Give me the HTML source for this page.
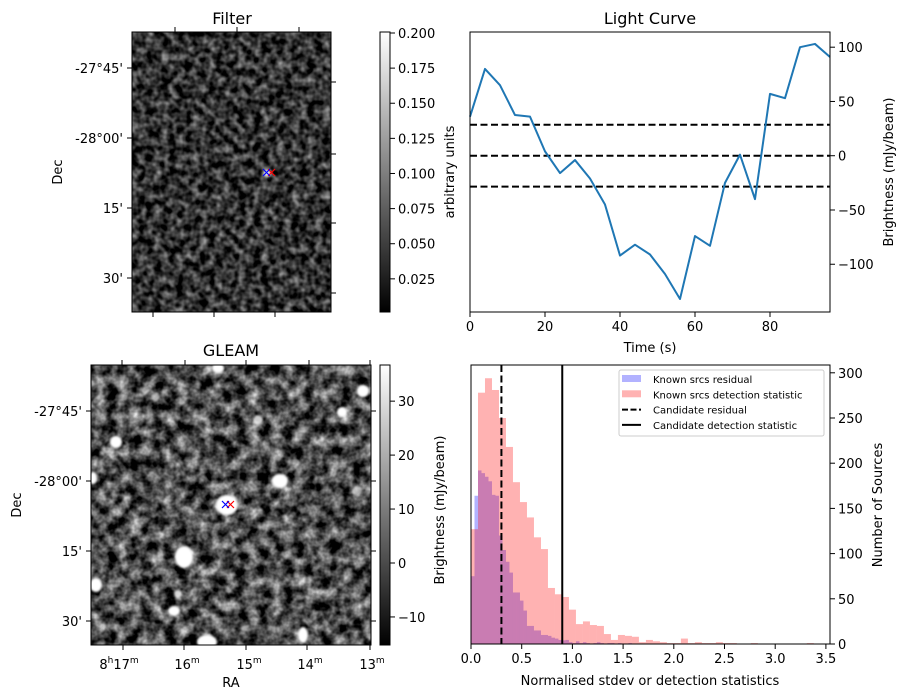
<!DOCTYPE html>
<html><head><meta charset="utf-8"><style>
html,body{margin:0;padding:0;background:#fff;}
svg{display:block;font-family:"DejaVu Sans","Liberation Sans",sans-serif;}
</style></head><body>
<svg id="fig" width="907" height="699" viewBox="0 0 907 699" xmlns="http://www.w3.org/2000/svg">
<defs>
<filter id="noiseA" x="0" y="0" width="100%" height="100%" color-interpolation-filters="sRGB">
<feTurbulence type="fractalNoise" baseFrequency="0.13" numOctaves="2" seed="3"/>
<feColorMatrix type="matrix" values="1.05 0 0 0 -0.33  1.05 0 0 0 -0.33  1.05 0 0 0 -0.33  0 0 0 0 1"/>
</filter>
<filter id="noiseB" x="0" y="0" width="100%" height="100%" color-interpolation-filters="sRGB">
<feTurbulence type="fractalNoise" baseFrequency="0.085" numOctaves="3" seed="8"/>
<feColorMatrix type="matrix" values="1.45 0 0 0 -0.42  1.45 0 0 0 -0.42  1.45 0 0 0 -0.42  0 0 0 0 1"/>
</filter>
<filter id="blur2" x="-50%" y="-50%" width="200%" height="200%"><feGaussianBlur stdDeviation="1.5"/></filter>
<filter id="blur1" x="-20%" y="-20%" width="140%" height="140%"><feGaussianBlur stdDeviation="1"/></filter>
<linearGradient id="cbar" x1="0" y1="1" x2="0" y2="0"><stop offset="0" stop-color="#000"/><stop offset="1" stop-color="#fff"/></linearGradient>
<clipPath id="clipB"><rect x="91" y="365" width="280" height="280"/></clipPath>
</defs>

<!-- Filter panel -->
<g>
<text x="232" y="24" font-size="16" text-anchor="middle">Filter</text>
<rect x="132" y="32" width="199" height="280" fill="#333" filter="url(#noiseA)"/>
<rect x="132" y="32" width="199" height="280" fill="none" stroke="#000" stroke-width="1"/>
<g stroke="#000" stroke-width="1">
<line x1="175" y1="32" x2="175" y2="27"/><line x1="237" y1="32" x2="237" y2="27"/><line x1="299" y1="32" x2="299" y2="27"/>
<line x1="153" y1="312" x2="153" y2="317"/><line x1="214" y1="312" x2="214" y2="317"/><line x1="275" y1="312" x2="275" y2="317"/>
<line x1="132" y1="68" x2="127" y2="68"/><line x1="132" y1="138" x2="127" y2="138"/><line x1="132" y1="208" x2="127" y2="208"/><line x1="132" y1="278" x2="127" y2="278"/>
<line x1="331" y1="82" x2="336" y2="82"/><line x1="331" y1="154" x2="336" y2="154"/><line x1="331" y1="223" x2="336" y2="223"/><line x1="331" y1="293" x2="336" y2="293"/>
</g>
<g font-size="13" text-anchor="end">
<text x="123" y="73">-27°45'</text><text x="123" y="143">-28°00'</text><text x="123" y="213">15'</text><text x="123" y="283">30'</text>
</g>
<text transform="translate(62,172) rotate(-90)" font-size="13" text-anchor="middle">Dec</text>
<g>
<circle cx="267" cy="173" r="4" fill="#eee" filter="url(#blur2)"/>
<path d="M268,169 l7,7 M275,169 l-7,7" stroke="red" stroke-width="1.2"/>
<path d="M263,169 l7,7 M270,169 l-7,7" stroke="blue" stroke-width="1.2"/>
</g>
<rect x="380" y="32" width="10" height="280" fill="url(#cbar)" stroke="#000" stroke-width="1"/>
<g id="cbA" font-size="13"></g>
<text transform="translate(454,172) rotate(-90)" font-size="13" text-anchor="middle">arbitrary units</text>
</g>

<!-- GLEAM panel -->
<g>
<text x="231" y="356" font-size="16" text-anchor="middle">GLEAM</text>
<g clip-path="url(#clipB)">
<rect x="91" y="365" width="280" height="280" fill="#444" filter="url(#noiseB)"/>
<g fill="#fff" filter="url(#blur1)">
<ellipse cx="218" cy="368" rx="6" ry="5"/><ellipse cx="363" cy="391" rx="6" ry="6"/><ellipse cx="342" cy="412" rx="5" ry="5"/>
<ellipse cx="258" cy="420" rx="5" ry="5" opacity="0.8"/><ellipse cx="116" cy="442" rx="6" ry="6"/><ellipse cx="280" cy="481" rx="8" ry="7"/>
<ellipse cx="357" cy="491" rx="5" ry="5" opacity="0.6"/><ellipse cx="227" cy="505" rx="11" ry="10"/><ellipse cx="184" cy="557" rx="9" ry="11"/>
<ellipse cx="96" cy="585" rx="6" ry="7"/><ellipse cx="178" cy="594" rx="4" ry="4" opacity="0.8"/><ellipse cx="174" cy="611" rx="6" ry="5"/>
<ellipse cx="207" cy="642" rx="10" ry="7"/><ellipse cx="303" cy="635" rx="5" ry="8"/><ellipse cx="93" cy="478" rx="4" ry="6"/>
<ellipse cx="155" cy="397" rx="4" ry="4" opacity="0.5"/>
</g>
</g>
<rect x="91" y="365" width="280" height="280" fill="none" stroke="#000" stroke-width="1"/>
<g stroke="#000" stroke-width="1">
<line x1="122" y1="365" x2="122" y2="360"/><line x1="185" y1="365" x2="185" y2="360"/><line x1="246" y1="365" x2="246" y2="360"/><line x1="309" y1="365" x2="309" y2="360"/><line x1="370" y1="365" x2="370" y2="360"/>
<line x1="123" y1="645" x2="123" y2="650"/><line x1="184" y1="645" x2="184" y2="650"/><line x1="246" y1="645" x2="246" y2="650"/><line x1="307" y1="645" x2="307" y2="650"/><line x1="370" y1="645" x2="370" y2="650"/>
<line x1="91" y1="411" x2="86" y2="411"/><line x1="91" y1="481" x2="86" y2="481"/><line x1="91" y1="551" x2="86" y2="551"/><line x1="91" y1="621" x2="86" y2="621"/>
<line x1="371" y1="411" x2="376" y2="411"/><line x1="371" y1="481" x2="376" y2="481"/><line x1="371" y1="551" x2="376" y2="551"/><line x1="371" y1="621" x2="376" y2="621"/>
</g>
<g font-size="13" text-anchor="end">
<text x="82" y="416">-27°45'</text><text x="82" y="486">-28°00'</text><text x="82" y="556">15'</text><text x="82" y="626">30'</text>
</g>
<text transform="translate(21,505) rotate(-90)" font-size="13" text-anchor="middle">Dec</text>
<g font-size="13" text-anchor="middle">
<text x="119" y="669">8<tspan font-size="9" dy="-6">h</tspan><tspan dy="6">17</tspan><tspan font-size="9" dy="-6">m</tspan></text>
<text x="187" y="669">16<tspan font-size="9" dy="-6">m</tspan></text>
<text x="249" y="669">15<tspan font-size="9" dy="-6">m</tspan></text>
<text x="310" y="669">14<tspan font-size="9" dy="-6">m</tspan></text>
<text x="372" y="669">13<tspan font-size="9" dy="-6">m</tspan></text>
</g>
<text x="231" y="687" font-size="13" text-anchor="middle">RA</text>
<g>
<path d="M227,501 l7,7 M234,501 l-7,7" stroke="red" stroke-width="1.2"/>
<path d="M222,501 l7,7 M229,501 l-7,7" stroke="blue" stroke-width="1.2"/>
</g>
<rect x="380" y="365" width="10" height="280" fill="url(#cbar)" stroke="#000" stroke-width="1"/>
<g id="cbB" font-size="13"></g>
<text transform="translate(444,510) rotate(-90)" font-size="13" text-anchor="middle">Brightness (mJy/beam)</text>
</g>

<!-- Light curve -->
<g id="lc">
<text x="650" y="24" font-size="16" text-anchor="middle">Light Curve</text>
<text x="650" y="352" font-size="13" text-anchor="middle">Time (s)</text>
<text transform="translate(893,172) rotate(-90)" font-size="13" text-anchor="middle">Brightness (mJy/beam)</text>
</g>

<!-- Histogram -->
<g id="hist">
<text x="650" y="685" font-size="13" text-anchor="middle">Normalised stdev or detection statistics</text>
<text transform="translate(882,505) rotate(-90)" font-size="13" text-anchor="middle">Number of Sources</text>
</g>
</svg>
<script>
// ---- Light curve data ----
const lcTimes = [0,4,8,12,16,20,24,28,32,36,40,44,48,52,56,60,64,68,72,76,80,84,88,92,96];
const lcFlux = [36,80,65,37.5,36,4,-16,-4,-21,-45,-92,-82,-91,-109,-132,-74,-83,-25,1,-40,57,53,100,103,91];
const lcThresholds = [28.5,0,-28.5];
const lcXTicks = [0,20,40,60,80];
const lcYTicks = [100,50,0,-50,-100];
// ---- Histogram data ----
const redCounts = [127,278,294,281,250,218,179,157,140,118,105,62,55,52,38,22,25,21,20,11,4.5,10,9,8,2,4.5,3,2,1,1,6,1,2,1,1,2,1,1,0,0,1,0,0,0,0,0,0,0,1];
const redBinWidth = 0.069;
const blueCounts = [75,164,192,189,185,180,165,164,120,104,91,79,57,57,48,37,20,20,15,15,10,10,9,7,6,4.5,4,4.5,2,1,3,1,2,1,0,1,2,1,0,1,1,0,1,0,0,1];
const blueBinWidth = 0.0345;
const candResidual = 0.30;
const candDetection = 0.90;
const histXTicks = [0.0,0.5,1.0,1.5,2.0,2.5,3.0,3.5];
const histYTicks = [0,50,100,150,200,250,300];
// ---- Colorbar ticks ----
const cbATicks = [0.025,0.050,0.075,0.100,0.125,0.150,0.175,0.200];
const cbBTicks = [30,20,10,0,-10];

const NS = "http://www.w3.org/2000/svg";
function mk(parent, tag, attrs){ const e=document.createElementNS(NS,tag); for(const k in attrs) e.setAttribute(k,attrs[k]); parent.appendChild(e); return e; }

// colorbars
(function(){
  const gA=document.getElementById('cbA');
  const yA=v=>312-(v-0.0014)/(0.2-0.0014)*279;
  cbATicks.forEach(v=>{
    const l=mk(gA,'line',{x1:390,x2:395,y1:yA(v),y2:yA(v),stroke:'#000'});
    
    
    const t=mk(gA,'text',{x:398,y:yA(v)+5}); t.textContent=v.toFixed(3);
    
    
  });
  const gB=document.getElementById('cbB');
  const yB=v=>645-(v+15.2)/(36.7+15.2)*280;
  cbBTicks.forEach(v=>{
    const l=mk(gB,'line',{x1:390,x2:395,y1:yB(v),y2:yB(v),stroke:'#000'});
    
    
    const t=mk(gB,'text',{x:398,y:yB(v)+5}); t.textContent=v<0?'\u2212'+Math.abs(v):String(v);
    
    
  });
})();

// light curve
(function(){
  const g=document.getElementById('lc');
  const L=470,R=830,T=32,B=312, x0=0,x1=96, y0=-144,y1=114;
  const X=v=>L+(v-x0)/(x1-x0)*(R-L);
  const Y=v=>B-(v-y0)/(y1-y0)*(B-T);
  lcThresholds.forEach(v=>{
    const l=mk(g,'line',{x1:L,x2:R,y1:Y(v),y2:Y(v),stroke:'#000','stroke-width':2,'stroke-dasharray':'7,3.5'});
    
    
  });
  const p=mk(g,'polyline',{points:lcTimes.map((t,i)=>X(t)+','+Y(lcFlux[i])).join(' '),fill:'none',stroke:'#1f77b4','stroke-width':2,'stroke-linejoin':'round'});
  
  
  const f=mk(g,'rect',{x:L,y:T,width:R-L,height:B-T,fill:'none',stroke:'#000'});
  
  
  lcXTicks.forEach(v=>{
    const l=mk(g,'line',{x1:X(v),x2:X(v),y1:B,y2:B+5,stroke:'#000'});
    
    
    const t=mk(g,'text',{x:X(v),y:B+19,'font-size':13,'text-anchor':'middle'}); t.textContent=v;
    
    
  });
  lcYTicks.forEach(v=>{
    const l=mk(g,'line',{x1:R,x2:R+5,y1:Y(v),y2:Y(v),stroke:'#000'});
    
    
    const t=mk(g,'text',{x:R+8,y:Y(v)+5,'font-size':13}); t.textContent=v<0?'\u2212'+Math.abs(v):String(v);
    
    
  });
})();

// histogram
(function(){
  const g=document.getElementById('hist');
  const L=471,R=830,T=365,B=644;
  const X=v=>L+v*101.4;
  const Y=v=>B-v*0.904;
  blueCounts.forEach((c,i)=>{ if(c<=0) return;
    const r=mk(g,'rect',{x:X(i*blueBinWidth),y:Y(c),width:X((i+1)*blueBinWidth)-X(i*blueBinWidth),height:B-Y(c),fill:'rgba(0,0,255,0.3)'});
    
    
  });
  redCounts.forEach((c,i)=>{ if(c<=0) return;
    const r=mk(g,'rect',{x:X(i*redBinWidth),y:Y(c),width:X((i+1)*redBinWidth)-X(i*redBinWidth),height:B-Y(c),fill:'rgba(255,0,0,0.3)'});
    
    
  });
  const d=mk(g,'line',{x1:X(candResidual),x2:X(candResidual),y1:T,y2:B,stroke:'#000','stroke-width':2,'stroke-dasharray':'7,3.5'});
  
  
  const s=mk(g,'line',{x1:X(candDetection),x2:X(candDetection),y1:T,y2:B,stroke:'#000','stroke-width':2});
  
  
  const f=mk(g,'rect',{x:L,y:T,width:R-L,height:B-T,fill:'none',stroke:'#000'});
  
  
  histXTicks.forEach(v=>{
    const l=mk(g,'line',{x1:X(v),x2:X(v),y1:B,y2:B+5,stroke:'#000'});
    
    
    const t=mk(g,'text',{x:X(v),y:B+19,'font-size':13,'text-anchor':'middle'}); t.textContent=v.toFixed(1);
    
    
  });
  histYTicks.forEach(v=>{
    const l=mk(g,'line',{x1:R,x2:R+5,y1:Y(v),y2:Y(v),stroke:'#000'});
    
    
    const t=mk(g,'text',{x:R+8,y:Y(v)+5,'font-size':13}); t.textContent=v;
    
    
  });
  // legend
  const lg=mk(g,'g',{});
  
  
  mk(lg,'rect',{x:619,y:370,width:205,height:66,rx:2,fill:'rgba(255,255,255,0.8)',stroke:'#ccc'});
  const items=[['Known srcs residual','blue'],['Known srcs detection statistic','red'],['Candidate residual','dash'],['Candidate detection statistic','solid']];
  items.forEach((it,i)=>{
    const y=379+i*15.3;
    if(it[1]==='blue') mk(lg,'rect',{x:622,y:y-4,width:19,height:7,fill:'rgba(0,0,255,0.3)'});
    else if(it[1]==='red') mk(lg,'rect',{x:622,y:y-4,width:19,height:7,fill:'rgba(255,0,0,0.3)'});
    else mk(lg,'line',{x1:622,x2:641,y1:y,y2:y,stroke:'#000','stroke-width':2,'stroke-dasharray':it[1]==='dash'?'6,2.5':'none'});
    const t=mk(lg,'text',{x:653,y:y+4,'font-size':10}); t.textContent=it[0];
    
    
  });
})();
</script>
</body></html>
